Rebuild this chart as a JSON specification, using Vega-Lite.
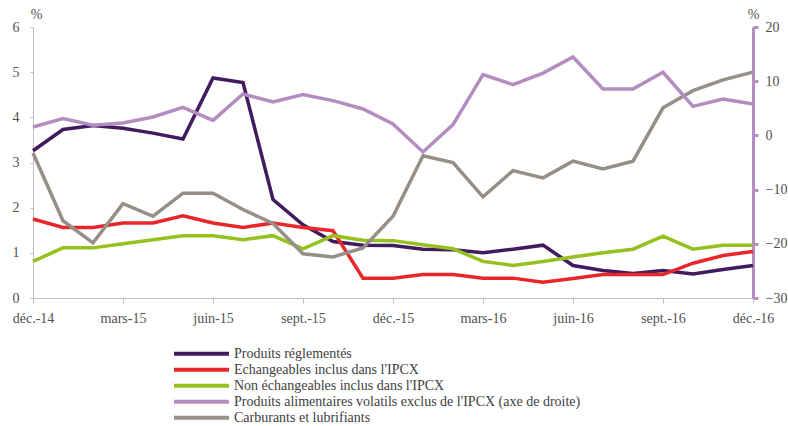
{
  "$schema": "https://vega.github.io/schema/vega-lite/v6.json",
  "autosize": {"type": "none"},
  "width": 720,
  "height": 271,
  "padding": {"left": 33, "top": 27, "right": 35, "bottom": 128},
  "background": "white",
  "config": {
    "font": "Liberation Serif",
    "view": {"stroke": null},
    "axis": {"labelFont": "Liberation Serif", "labelFontSize": 14, "labelColor": "#505050", "grid": false, "titleFont": "Liberation Serif", "titleFontWeight": "normal", "titleFontSize": 14, "titleColor": "#505050"}
  },
  "data": {"values": [
    {"m":"déc.-14","s":"Produits réglementés","v":3.26},{"m":"janv.-15","s":"Produits réglementés","v":3.73},{"m":"févr.-15","s":"Produits réglementés","v":3.82},{"m":"mars-15","s":"Produits réglementés","v":3.76},{"m":"avr.-15","s":"Produits réglementés","v":3.65},{"m":"mai-15","s":"Produits réglementés","v":3.52},{"m":"juin-15","s":"Produits réglementés","v":4.87},{"m":"juil.-15","s":"Produits réglementés","v":4.77},{"m":"août-15","s":"Produits réglementés","v":2.18},{"m":"sept.-15","s":"Produits réglementés","v":1.62},{"m":"oct.-15","s":"Produits réglementés","v":1.25},{"m":"nov.-15","s":"Produits réglementés","v":1.17},{"m":"déc.-15","s":"Produits réglementés","v":1.16},{"m":"janv.-16","s":"Produits réglementés","v":1.08},{"m":"févr.-16","s":"Produits réglementés","v":1.07},{"m":"mars-16","s":"Produits réglementés","v":1.0},{"m":"avr.-16","s":"Produits réglementés","v":1.08},{"m":"mai-16","s":"Produits réglementés","v":1.17},{"m":"juin-16","s":"Produits réglementés","v":0.72},{"m":"juil.-16","s":"Produits réglementés","v":0.61},{"m":"août-16","s":"Produits réglementés","v":0.54},{"m":"sept.-16","s":"Produits réglementés","v":0.61},{"m":"oct.-16","s":"Produits réglementés","v":0.53},{"m":"nov.-16","s":"Produits réglementés","v":0.63},{"m":"déc.-16","s":"Produits réglementés","v":0.72},
    {"m":"déc.-14","s":"Echangeables inclus dans l'IPCX","v":1.75},{"m":"janv.-15","s":"Echangeables inclus dans l'IPCX","v":1.56},{"m":"févr.-15","s":"Echangeables inclus dans l'IPCX","v":1.56},{"m":"mars-15","s":"Echangeables inclus dans l'IPCX","v":1.66},{"m":"avr.-15","s":"Echangeables inclus dans l'IPCX","v":1.66},{"m":"mai-15","s":"Echangeables inclus dans l'IPCX","v":1.82},{"m":"juin-15","s":"Echangeables inclus dans l'IPCX","v":1.66},{"m":"juil.-15","s":"Echangeables inclus dans l'IPCX","v":1.56},{"m":"août-15","s":"Echangeables inclus dans l'IPCX","v":1.66},{"m":"sept.-15","s":"Echangeables inclus dans l'IPCX","v":1.56},{"m":"oct.-15","s":"Echangeables inclus dans l'IPCX","v":1.49},{"m":"nov.-15","s":"Echangeables inclus dans l'IPCX","v":0.44},{"m":"déc.-15","s":"Echangeables inclus dans l'IPCX","v":0.44},{"m":"janv.-16","s":"Echangeables inclus dans l'IPCX","v":0.52},{"m":"févr.-16","s":"Echangeables inclus dans l'IPCX","v":0.52},{"m":"mars-16","s":"Echangeables inclus dans l'IPCX","v":0.44},{"m":"avr.-16","s":"Echangeables inclus dans l'IPCX","v":0.44},{"m":"mai-16","s":"Echangeables inclus dans l'IPCX","v":0.35},{"m":"juin-16","s":"Echangeables inclus dans l'IPCX","v":0.43},{"m":"juil.-16","s":"Echangeables inclus dans l'IPCX","v":0.52},{"m":"août-16","s":"Echangeables inclus dans l'IPCX","v":0.52},{"m":"sept.-16","s":"Echangeables inclus dans l'IPCX","v":0.52},{"m":"oct.-16","s":"Echangeables inclus dans l'IPCX","v":0.77},{"m":"nov.-16","s":"Echangeables inclus dans l'IPCX","v":0.94},{"m":"déc.-16","s":"Echangeables inclus dans l'IPCX","v":1.03},
    {"m":"déc.-14","s":"Non échangeables inclus dans l'IPCX","v":0.81},{"m":"janv.-15","s":"Non échangeables inclus dans l'IPCX","v":1.11},{"m":"févr.-15","s":"Non échangeables inclus dans l'IPCX","v":1.11},{"m":"mars-15","s":"Non échangeables inclus dans l'IPCX","v":1.2},{"m":"avr.-15","s":"Non échangeables inclus dans l'IPCX","v":1.29},{"m":"mai-15","s":"Non échangeables inclus dans l'IPCX","v":1.38},{"m":"juin-15","s":"Non échangeables inclus dans l'IPCX","v":1.38},{"m":"juil.-15","s":"Non échangeables inclus dans l'IPCX","v":1.29},{"m":"août-15","s":"Non échangeables inclus dans l'IPCX","v":1.38},{"m":"sept.-15","s":"Non échangeables inclus dans l'IPCX","v":1.09},{"m":"oct.-15","s":"Non échangeables inclus dans l'IPCX","v":1.38},{"m":"nov.-15","s":"Non échangeables inclus dans l'IPCX","v":1.28},{"m":"déc.-15","s":"Non échangeables inclus dans l'IPCX","v":1.27},{"m":"janv.-16","s":"Non échangeables inclus dans l'IPCX","v":1.18},{"m":"févr.-16","s":"Non échangeables inclus dans l'IPCX","v":1.09},{"m":"mars-16","s":"Non échangeables inclus dans l'IPCX","v":0.81},{"m":"avr.-16","s":"Non échangeables inclus dans l'IPCX","v":0.72},{"m":"mai-16","s":"Non échangeables inclus dans l'IPCX","v":0.81},{"m":"juin-16","s":"Non échangeables inclus dans l'IPCX","v":0.91},{"m":"juil.-16","s":"Non échangeables inclus dans l'IPCX","v":1.0},{"m":"août-16","s":"Non échangeables inclus dans l'IPCX","v":1.08},{"m":"sept.-16","s":"Non échangeables inclus dans l'IPCX","v":1.37},{"m":"oct.-16","s":"Non échangeables inclus dans l'IPCX","v":1.08},{"m":"nov.-16","s":"Non échangeables inclus dans l'IPCX","v":1.17},{"m":"déc.-16","s":"Non échangeables inclus dans l'IPCX","v":1.17},
    {"m":"déc.-14","s":"Carburants et lubrifiants","v":3.21},{"m":"janv.-15","s":"Carburants et lubrifiants","v":1.71},{"m":"févr.-15","s":"Carburants et lubrifiants","v":1.22},{"m":"mars-15","s":"Carburants et lubrifiants","v":2.09},{"m":"avr.-15","s":"Carburants et lubrifiants","v":1.81},{"m":"mai-15","s":"Carburants et lubrifiants","v":2.32},{"m":"juin-15","s":"Carburants et lubrifiants","v":2.32},{"m":"juil.-15","s":"Carburants et lubrifiants","v":1.96},{"m":"août-15","s":"Carburants et lubrifiants","v":1.65},{"m":"sept.-15","s":"Carburants et lubrifiants","v":0.98},{"m":"oct.-15","s":"Carburants et lubrifiants","v":0.91},{"m":"nov.-15","s":"Carburants et lubrifiants","v":1.11},{"m":"déc.-15","s":"Carburants et lubrifiants","v":1.81},{"m":"janv.-16","s":"Carburants et lubrifiants","v":3.15},{"m":"févr.-16","s":"Carburants et lubrifiants","v":3.0},{"m":"mars-16","s":"Carburants et lubrifiants","v":2.24},{"m":"avr.-16","s":"Carburants et lubrifiants","v":2.82},{"m":"mai-16","s":"Carburants et lubrifiants","v":2.66},{"m":"juin-16","s":"Carburants et lubrifiants","v":3.03},{"m":"juil.-16","s":"Carburants et lubrifiants","v":2.86},{"m":"août-16","s":"Carburants et lubrifiants","v":3.03},{"m":"sept.-16","s":"Carburants et lubrifiants","v":4.21},{"m":"oct.-16","s":"Carburants et lubrifiants","v":4.59},{"m":"nov.-16","s":"Carburants et lubrifiants","v":4.83},{"m":"déc.-16","s":"Carburants et lubrifiants","v":5.0},
    {"m":"déc.-14","s":"Produits alimentaires volatils exclus de l'IPCX (axe de droite)","v":1.55},{"m":"janv.-15","s":"Produits alimentaires volatils exclus de l'IPCX (axe de droite)","v":3.1},{"m":"févr.-15","s":"Produits alimentaires volatils exclus de l'IPCX (axe de droite)","v":1.86},{"m":"mars-15","s":"Produits alimentaires volatils exclus de l'IPCX (axe de droite)","v":2.29},{"m":"avr.-15","s":"Produits alimentaires volatils exclus de l'IPCX (axe de droite)","v":3.39},{"m":"mai-15","s":"Produits alimentaires volatils exclus de l'IPCX (axe de droite)","v":5.18},{"m":"juin-15","s":"Produits alimentaires volatils exclus de l'IPCX (axe de droite)","v":2.78},{"m":"juil.-15","s":"Produits alimentaires volatils exclus de l'IPCX (axe de droite)","v":7.64},{"m":"août-15","s":"Produits alimentaires volatils exclus de l'IPCX (axe de droite)","v":6.16},{"m":"sept.-15","s":"Produits alimentaires volatils exclus de l'IPCX (axe de droite)","v":7.52},{"m":"oct.-15","s":"Produits alimentaires volatils exclus de l'IPCX (axe de droite)","v":6.41},{"m":"nov.-15","s":"Produits alimentaires volatils exclus de l'IPCX (axe de droite)","v":4.87},{"m":"déc.-15","s":"Produits alimentaires volatils exclus de l'IPCX (axe de droite)","v":2.1},{"m":"janv.-16","s":"Produits alimentaires volatils exclus de l'IPCX (axe de droite)","v":-3.06},{"m":"févr.-16","s":"Produits alimentaires volatils exclus de l'IPCX (axe de droite)","v":1.98},{"m":"mars-16","s":"Produits alimentaires volatils exclus de l'IPCX (axe de droite)","v":11.2},{"m":"avr.-16","s":"Produits alimentaires volatils exclus de l'IPCX (axe de droite)","v":9.36},{"m":"mai-16","s":"Produits alimentaires volatils exclus de l'IPCX (axe de droite)","v":11.5},{"m":"juin-16","s":"Produits alimentaires volatils exclus de l'IPCX (axe de droite)","v":14.46},{"m":"juil.-16","s":"Produits alimentaires volatils exclus de l'IPCX (axe de droite)","v":8.56},{"m":"août-16","s":"Produits alimentaires volatils exclus de l'IPCX (axe de droite)","v":8.56},{"m":"sept.-16","s":"Produits alimentaires volatils exclus de l'IPCX (axe de droite)","v":11.64},{"m":"oct.-16","s":"Produits alimentaires volatils exclus de l'IPCX (axe de droite)","v":5.36},{"m":"nov.-16","s":"Produits alimentaires volatils exclus de l'IPCX (axe de droite)","v":6.72},{"m":"déc.-16","s":"Produits alimentaires volatils exclus de l'IPCX (axe de droite)","v":5.8}
  ]},
  "encoding": {
    "x": {
      "field": "m", "type": "ordinal", "sort": null, "title": null,
      "scale": {"type": "point", "padding": 0, "domain": ["déc.-14","janv.-15","févr.-15","mars-15","avr.-15","mai-15","juin-15","juil.-15","août-15","sept.-15","oct.-15","nov.-15","déc.-15","janv.-16","févr.-16","mars-16","avr.-16","mai-16","juin-16","juil.-16","août-16","sept.-16","oct.-16","nov.-16","déc.-16"]},
      "axis": {"values": ["déc.-14","mars-15","juin-15","sept.-15","déc.-15","mars-16","juin-16","sept.-16","déc.-16"], "labelAngle": 0, "domainColor": "#BFBFBF", "tickColor": "#BFBFBF", "tickSize": 5, "labelPadding": 8}
    },
    "color": {
      "field": "s", "type": "nominal",
      "scale": {
        "domain": ["Produits réglementés","Echangeables inclus dans l'IPCX","Non échangeables inclus dans l'IPCX","Produits alimentaires volatils exclus de l'IPCX (axe de droite)","Carburants et lubrifiants"],
        "range": ["#421B5E","#E8272B","#95C11F","#B48DC0","#958F88"]
      },
      "legend": {
        "title": null, "orient": "none", "legendX": 139, "legendY": 319, "direction": "vertical", "padding": 0,
        "symbolType": "stroke", "symbolSize": 3025, "symbolStrokeWidth": 4, "clipHeight": 15.7, "rowPadding": 0,
        "labelOffset": 3, "labelFont": "Liberation Serif", "labelFontSize": 14, "labelColor": "#404040", "labelLimit": 500
      }
    }
  },
  "layer": [
    {
      "transform": [{"filter": "datum.s !== \"Produits alimentaires volatils exclus de l'IPCX (axe de droite)\""}],
      "mark": {"type": "line", "strokeWidth": 3.5},
      "encoding": {
        "y": {"field": "v", "type": "quantitative", "scale": {"domain": [0, 6], "nice": false},
          "axis": {"values": [0,1,2,3,4,5,6], "title": "%", "titleAngle": 0, "titleX": 3, "titleY": -6, "titleAlign": "center", "titleBaseline": "bottom", "domainColor": "#BFBFBF", "tickColor": "#BFBFBF", "tickSize": 3, "labelPadding": 11}}
      }
    },
    {
      "transform": [{"filter": "datum.s === \"Produits alimentaires volatils exclus de l'IPCX (axe de droite)\""}],
      "mark": {"type": "line", "strokeWidth": 3.5},
      "encoding": {
        "y": {"field": "v", "type": "quantitative", "scale": {"domain": [-30, 20], "nice": false},
          "axis": {"orient": "right", "values": [-30,-20,-10,0,10,20], "title": "%", "titleAngle": 0, "titleX": 0, "titleY": -6, "titleAlign": "center", "titleBaseline": "bottom", "domainColor": "#B48DC0", "domainWidth": 3, "tickColor": "#B48DC0", "tickWidth": 3, "tickSize": 5, "labelPadding": 7}}
      }
    }
  ],
  "resolve": {"scale": {"y": "independent"}}
}
